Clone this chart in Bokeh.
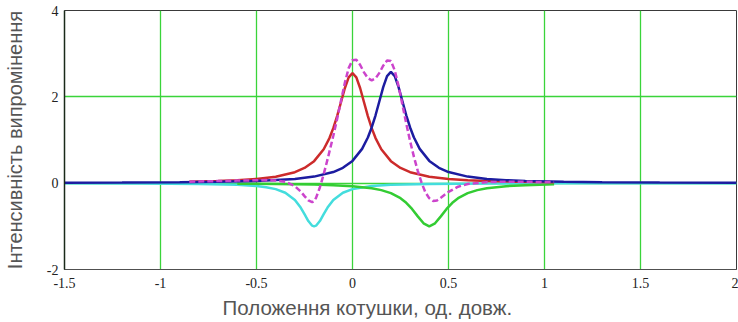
from bokeh.plotting import figure
from bokeh.models import Range1d, FixedTicker, Title
from bokeh.embed import file_html
from bokeh.resources import INLINE

# ---- data ----
x_ticks = [-1.5, -1.0, -0.5, 0.0, 0.5, 1.0, 1.5, 2.0]
x_tick_labels = ["-1.5", "-1", "-0.5", "0", "0.5", "1", "1.5", "2"]
y_ticks = [-2, 0, 2, 4]
y_tick_labels = ["-2", "0", "2", "4"]

red_x = [-0.85, -0.7, -0.6, -0.5, -0.4, -0.3, -0.25, -0.2, -0.15, -0.12, -0.1, -0.08, -0.06, -0.04, -0.02, 0.0,
         0.02, 0.04, 0.06, 0.08, 0.1, 0.12, 0.15, 0.2, 0.25, 0.3, 0.4, 0.5, 0.6, 0.7, 0.85, 1.05]
red_y = [0.035, 0.051, 0.069, 0.098, 0.150, 0.255, 0.352, 0.510, 0.785, 1.045, 1.275, 1.555, 1.875, 2.198, 2.452, 2.55,
         2.452, 2.198, 1.875, 1.555, 1.275, 1.045, 0.785, 0.510, 0.352, 0.255, 0.150, 0.098, 0.069, 0.051, 0.035, 0.023]

blue_x = [-1.5, -1.2, -0.9, -0.7, -0.5, -0.3, -0.2, -0.1, -0.05, 0.0, 0.05, 0.08, 0.1, 0.12, 0.14, 0.16, 0.18, 0.2,
          0.22, 0.24, 0.26, 0.28, 0.3, 0.32, 0.35, 0.4, 0.45, 0.5, 0.6, 0.7, 0.8, 0.9, 1.1, 1.3, 1.6, 2.0]
blue_y = [0.009, 0.013, 0.021, 0.031, 0.052, 0.099, 0.152, 0.258, 0.356, 0.516, 0.794, 1.057, 1.29, 1.573, 1.897, 2.224, 2.481, 2.58,
          2.481, 2.224, 1.897, 1.573, 1.29, 1.057, 0.794, 0.516, 0.356, 0.258, 0.152, 0.099, 0.070, 0.052, 0.031, 0.021, 0.013, 0.008]

cyan_x = [-1.5, -1.1, -0.8, -0.6, -0.5, -0.45, -0.4, -0.35, -0.3, -0.27, -0.25, -0.23, -0.21, -0.2,
          -0.19, -0.17, -0.15, -0.13, -0.1, -0.05, 0.0, 0.1, 0.2, 0.4, 0.7, 1.1, 1.5, 2.0]
cyan_y = [-0.004, -0.008, -0.017, -0.038, -0.066, -0.093, -0.138, -0.221, -0.390, -0.566, -0.719, -0.877, -0.985, -1.0,
          -0.985, -0.877, -0.719, -0.566, -0.390, -0.221, -0.138, -0.066, -0.038, -0.017, -0.008, -0.004, -0.002, -0.001]

green_x = [-0.6, -0.4, -0.2, -0.1, 0.0, 0.1, 0.15, 0.2, 0.25, 0.28, 0.31, 0.34, 0.37, 0.4,
           0.43, 0.46, 0.49, 0.52, 0.55, 0.6, 0.65, 0.7, 0.8, 0.9, 1.05]
green_y = [-0.012, -0.018, -0.032, -0.046, -0.070, -0.118, -0.161, -0.231, -0.348, -0.455, -0.597, -0.769, -0.930, -1.0,
           -0.930, -0.769, -0.597, -0.455, -0.348, -0.231, -0.161, -0.118, -0.070, -0.046, -0.028]

mag_x = [-0.85, -0.6, -0.45, -0.4, -0.35, -0.3, -0.27, -0.25, -0.23, -0.21, -0.2, -0.19, -0.17, -0.15, -0.13, -0.1,
         -0.08, -0.06, -0.04, -0.02, 0.0, 0.02, 0.04, 0.06, 0.08, 0.1, 0.12, 0.14, 0.16, 0.18, 0.2, 0.22, 0.24, 0.26,
         0.28, 0.3, 0.32, 0.34, 0.36, 0.38, 0.4, 0.42, 0.44, 0.46, 0.48, 0.5, 0.55, 0.6, 0.7, 0.8, 0.9, 1.05]
mag_y = [0.035, 0.059, 0.071, 0.064, 0.033, -0.070, -0.190, -0.300, -0.400, -0.440, -0.420, -0.340, -0.100, 0.210, 0.550, 1.097,
         1.489, 1.907, 2.322, 2.665, 2.850, 2.860, 2.738, 2.567, 2.432, 2.381, 2.426, 2.555, 2.721, 2.841, 2.830, 2.613, 2.250, 1.817,
         1.379, 0.975, 0.609, 0.285, 0.006, -0.214, -0.351, -0.415, -0.400, -0.336, -0.267, -0.202, -0.082, -0.020, 0.024, 0.033, 0.032, 0.026]

x_title = "Положення котушки, од. довж."
y_title = "Інтенсивність випромінення"

# ---- figure ----
p = figure(width=738, height=322, output_backend="svg", toolbar_location=None,
           x_range=Range1d(-1.5, 2.0), y_range=Range1d(-2.0, 4.0),
           min_border_left=62, min_border_right=2, min_border_top=10, min_border_bottom=52)
p.background_fill_color = "white"
p.border_fill_color = "white"
p.outline_line_color = "#3a3a3a"
p.outline_line_width = 1

p.xaxis.ticker = FixedTicker(ticks=x_ticks)
p.yaxis.ticker = FixedTicker(ticks=y_ticks)
p.xaxis.major_label_overrides = {t: s for t, s in zip(x_ticks, x_tick_labels)}
p.yaxis.major_label_overrides = {t: s for t, s in zip(y_ticks, y_tick_labels)}

p.xgrid.ticker = FixedTicker(ticks=x_ticks)
p.ygrid.ticker = FixedTicker(ticks=y_ticks)
for g in (p.xgrid, p.ygrid):
    g.grid_line_color = "#3ad43a"
    g.grid_line_width = 1.3
    g.grid_line_alpha = 1.0

for ax in (p.xaxis, p.yaxis):
    ax.major_tick_out = 0
    ax.major_tick_in = 0
    ax.minor_tick_out = 0
    ax.minor_tick_in = 0
    ax.major_label_text_font = "Liberation Serif"
    ax.major_label_text_font_size = "14px"
    ax.major_label_text_color = "#222222"
    ax.axis_label_text_font = "Liberation Sans"
    ax.axis_label_text_font_size = "20px"
    ax.axis_label_text_font_style = "normal"
    ax.axis_label_text_color = "#555555"

p.yaxis.axis_label = y_title
p.xaxis.axis_line_color = "#505050"
p.yaxis.axis_line_color = "#1a2a1a"
p.yaxis.axis_line_width = 1.5
p.xaxis.major_label_standoff = 8
p.yaxis.major_label_standoff = 6
p.yaxis.axis_label_standoff = 18

xt = Title(text=x_title, align="left", offset=158, standoff=7,
           text_font="Liberation Sans", text_font_size="20.5px",
           text_font_style="normal", text_color="#555555")
p.add_layout(xt, "below")

p.line(cyan_x, cyan_y, line_color="#44dddd", line_width=2.5)
p.line(green_x, green_y, line_color="#33cc33", line_width=2.5)
p.line(red_x, red_y, line_color="#cc2b2b", line_width=2.5)
p.line(blue_x, blue_y, line_color="#1c1ca0", line_width=2.5)
p.line(mag_x, mag_y, line_color="#cc44cc", line_width=2.5, line_dash="6 3")

open("out.html", "w").write(file_html(p, INLINE))
